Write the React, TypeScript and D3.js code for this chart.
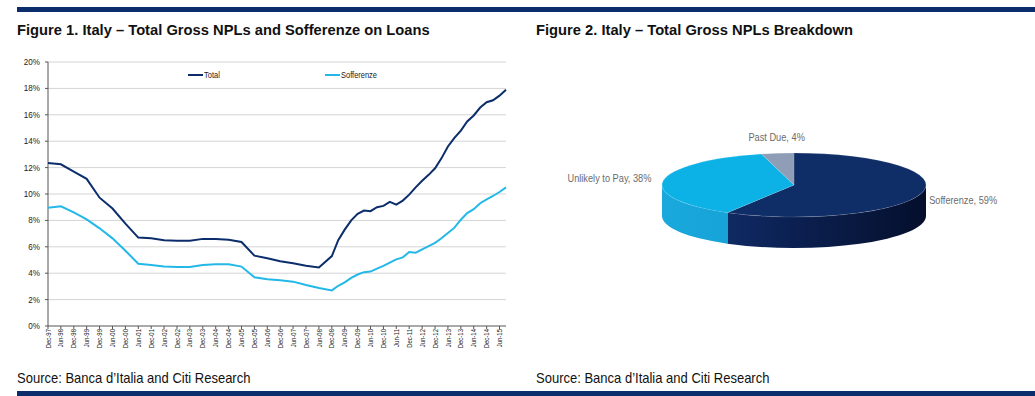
import React from "react";
import * as d3 from "d3";

// Figure 1 data: semi-annual up to Jun-08, quarterly afterwards
const periods = [
  "Dec-97", "Jun-98", "Dec-98", "Jun-99", "Dec-99", "Jun-00", "Dec-00", "Jun-01",
  "Dec-01", "Jun-02", "Dec-02", "Jun-03", "Dec-03", "Jun-04", "Dec-04", "Jun-05",
  "Dec-05", "Jun-06", "Dec-06", "Jun-07", "Dec-07", "Jun-08",
  "Dec-08", "Mar-09", "Jun-09", "Sep-09", "Dec-09", "Mar-10", "Jun-10", "Sep-10",
  "Dec-10", "Mar-11", "Jun-11", "Sep-11", "Dec-11", "Mar-12", "Jun-12", "Sep-12",
  "Dec-12", "Mar-13", "Jun-13", "Sep-13", "Dec-13", "Mar-14", "Jun-14", "Sep-14",
  "Dec-14", "Mar-15", "Jun-15", "Sep-15",
];
const totalNpl = [
  12.35, 12.25, 11.7, 11.15, 9.72, 8.9, 7.75, 6.7, 6.64, 6.5, 6.46, 6.46, 6.6, 6.6,
  6.54, 6.36, 5.33, 5.13, 4.9, 4.75, 4.57, 4.44,
  5.3, 6.5, 7.3, 8.0, 8.5, 8.75, 8.7, 9.0, 9.1, 9.4, 9.2, 9.5, 9.95, 10.5, 11.0,
  11.45, 11.95, 12.7, 13.6, 14.25, 14.8, 15.5, 15.95, 16.55, 16.95, 17.1, 17.45, 17.9,
];
const sofferenze = [
  8.96, 9.07, 8.61, 8.08, 7.4, 6.64, 5.7, 4.72, 4.62, 4.5, 4.47, 4.47, 4.62, 4.67,
  4.67, 4.5, 3.69, 3.54, 3.46, 3.36, 3.1, 2.88,
  2.7, 3.05, 3.3, 3.65, 3.9, 4.08, 4.12, 4.35, 4.55, 4.8, 5.05, 5.2, 5.6, 5.55, 5.8,
  6.05, 6.3, 6.65, 7.05, 7.45, 8.05, 8.55, 8.85, 9.3, 9.6, 9.85, 10.15, 10.5,
];
const xTickLabels = [
  "Dec-97", "Jun-98", "Dec-98", "Jun-99", "Dec-99", "Jun-00", "Dec-00", "Jun-01",
  "Dec-01", "Jun-02", "Dec-02", "Jun-03", "Dec-03", "Jun-04", "Dec-04", "Jun-05",
  "Dec-05", "Jun-06", "Dec-06", "Jun-07", "Dec-07", "Jun-08", "Dec-08", "Jun-09",
  "Dec-09", "Jun-10", "Dec-10", "Jun-11", "Dec-11", "Jun-12", "Dec-12", "Jun-13",
  "Dec-13", "Jun-14", "Dec-14", "Jun-15",
];
const yTicks = [0, 2, 4, 6, 8, 10, 12, 14, 16, 18, 20];
const seriesNames = ["Total", "Sofferenze"];

// Figure 2 data
const pieLabels = ["Sofferenze", "Unlikely to Pay", "Past Due"];
const pieValues = [59, 38, 4];

const NAVY = "#0b2d6b";
const SANS = "'Liberation Sans', Arial, sans-serif";

const parse = d3.timeParse("%b-%y");

// narrow-looking text: Arial squeezed horizontally
function Narrow(props: {
  x: number; y: number; size: number; sx?: number; bold?: boolean; fill?: string;
  anchor?: string; rotate?: number; children: React.ReactNode;
}) {
  const { x, y, size, sx = 0.88, bold, fill = "#111", anchor = "start", rotate = 0 } = props;
  return (
    <text
      transform={`translate(${x},${y}) rotate(${rotate}) scale(${sx},1)`}
      textAnchor={anchor}
      fontFamily={SANS}
      fontWeight={bold ? "bold" : "normal"}
      fontSize={size}
      fill={fill}
    >
      {props.children}
    </text>
  );
}

function LineChart() {
  const left = 48, right = 506, top = 62, bottom = 326;
  const dates = periods.map((p) => parse(p) as Date);
  const x = d3.scaleTime().domain([dates[0], dates[dates.length - 1]]).range([left, right]);
  const y = d3.scaleLinear().domain([0, 20]).range([bottom, top]);

  const line = d3
    .line<number>()
    .x((_, i) => x(dates[i]))
    .y((d) => y(d));

  const colors = [NAVY, "#22b8e8"];
  const legendX = [188, 325];

  return (
    <g>
      {yTicks.map((t) => (
        <g key={t}>
          {t > 0 && <line x1={left} x2={right} y1={y(t)} y2={y(t)} stroke="#d4d4d4" strokeWidth={1} />}
          <line x1={left - 3} x2={left} y1={y(t)} y2={y(t)} stroke="#555" />
          <Narrow x={left - 8} y={y(t) + 3} size={8.5} sx={0.95} anchor="end" fill="#222">
            {t}%
          </Narrow>
        </g>
      ))}
      <line x1={left} x2={left} y1={top} y2={bottom} stroke="#555" />
      <line x1={left} x2={right} y1={bottom} y2={bottom} stroke="#555" />
      {xTickLabels.map((l) => {
        const xx = x(parse(l) as Date);
        return (
          <g key={l}>
            <line x1={xx} x2={xx} y1={bottom} y2={bottom + 3} stroke="#555" />
            <Narrow x={xx + 2.6} y={bottom + 3} size={7.5} sx={0.8} rotate={-90} anchor="end" fill="#222">
              {l}
            </Narrow>
          </g>
        );
      })}
      <path d={line(sofferenze) || ""} fill="none" stroke={colors[1]} strokeWidth={2} />
      <path d={line(totalNpl) || ""} fill="none" stroke={colors[0]} strokeWidth={2} />
      {seriesNames.map((s, i) => (
        <g key={s}>
          <line x1={legendX[i]} x2={legendX[i] + 15} y1={75} y2={75} stroke={colors[i]} strokeWidth={2} />
          <Narrow x={legendX[i] + 16} y={78} size={8.5} sx={0.88} fill="#222">
            {s}
          </Narrow>
        </g>
      ))}
    </g>
  );
}

function PieChart() {
  const cx = 794, cy = 185, rx = 132, ry = 32, depth = 31;
  const topColors = ["#0f2d66", "#0cb2e6", "#8f9eb6"];
  const sideFill = ["url(#darkSide)", "url(#lightSide)", "#6f7f98"];
  const arcs = d3.pie<number>().sort(null)(pieValues);
  const arc = d3.arc<d3.PieArcDatum<number>>().innerRadius(0).outerRadius(rx);
  const pt = (a: number, dy: number) => `${cx + rx * Math.sin(a)},${cy - ry * Math.cos(a) + dy}`;

  const sides = arcs.map((a, i) => {
    const lo = Math.max(a.startAngle, Math.PI / 2);
    const hi = Math.min(a.endAngle, (3 * Math.PI) / 2);
    if (lo >= hi) return null;
    const d = `M${pt(lo, 0)} A${rx},${ry} 0 0 1 ${pt(hi, 0)} L${pt(hi, depth)} A${rx},${ry} 0 0 0 ${pt(lo, depth)} Z`;
    return <path key={i} d={d} fill={sideFill[i]} />;
  });

  return (
    <g>
      <defs>
        <linearGradient id="darkSide" gradientUnits="userSpaceOnUse" x1={cx - rx} x2={cx + rx} y1={0} y2={0}>
          <stop offset="0" stopColor="#143474" />
          <stop offset="0.45" stopColor="#0c2255" />
          <stop offset="1" stopColor="#050f2c" />
        </linearGradient>
        <linearGradient id="lightSide" gradientUnits="userSpaceOnUse" x1={cx - rx} x2={cx + rx} y1={0} y2={0}>
          <stop offset="0" stopColor="#1aa9dd" />
          <stop offset="0.3" stopColor="#16a2d6" />
        </linearGradient>
      </defs>
      {sides}
      <g transform={`translate(${cx},${cy}) scale(1,${ry / rx})`}>
        {arcs.map((a, i) => (
          <path key={i} d={arc(a) || ""} fill={topColors[i]} stroke="#ffffff" strokeOpacity={0.25} strokeWidth={0.5} vectorEffect="non-scaling-stroke" />
        ))}
      </g>
      {arcs.map((a, i) => {
        const mid = (a.startAngle + a.endAngle) / 2;
        const s = Math.sin(mid);
        const lx = cx + (rx + (s < -0.3 ? 12 : 8)) * s;
        const ly = cy - (ry + 16) * Math.cos(mid) + (s > 0.3 ? 2.5 : 0);
        const anchor = Math.abs(s) < 0.3 ? "middle" : s > 0 ? "start" : "end";
        return (
          <Narrow key={i} x={lx} y={ly + 3.5} size={10.5} sx={0.88} anchor={anchor} fill="#6b6b6b">
            {`${pieLabels[i]}, ${pieValues[i]}%`}
          </Narrow>
        );
      })}
    </g>
  );
}

export default function App() {
  return (
    <svg width={1035} height={396} style={{ position: "absolute", left: 0, top: 0, background: "#fff" }}>
      <rect x={17} y={7} width={1018} height={5} fill={NAVY} />
      <rect x={17} y={391} width={1018} height={5} fill={NAVY} />
      <Narrow x={17} y={35} size={15.5} sx={0.95} bold>
        Figure 1. Italy – Total Gross NPLs and Sofferenze on Loans
      </Narrow>
      <Narrow x={536} y={35} size={15.5} sx={0.95} bold>
        Figure 2. Italy – Total Gross NPLs Breakdown
      </Narrow>
      <LineChart />
      <PieChart />
      <Narrow x={17} y={382.5} size={14} sx={0.93}>
        Source: Banca d’Italia and Citi Research
      </Narrow>
      <Narrow x={536} y={382.5} size={14} sx={0.93}>
        Source: Banca d’Italia and Citi Research
      </Narrow>
    </svg>
  );
}
